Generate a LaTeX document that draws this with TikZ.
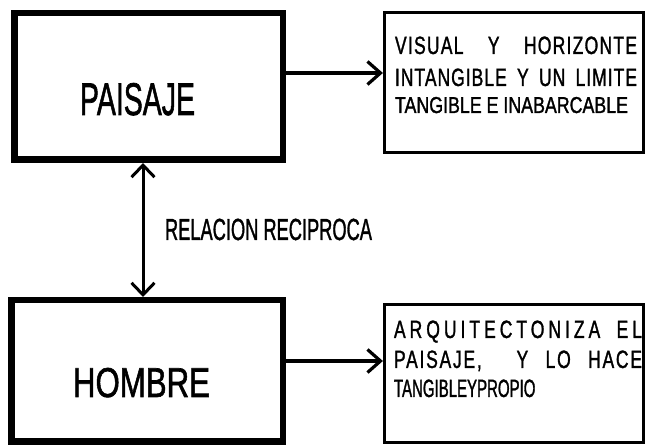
\documentclass[tikz,border=0pt]{standalone}
\usepackage{fontspec}
\usepackage{graphicx}
\setmainfont{Liberation Sans}
\newfontfamily\cond[FakeStretch=0.7,FakeBold=1.2]{Liberation Sans}
\newfontfamily\condn[FakeStretch=0.6,FakeBold=1.2]{Liberation Sans}
\newfontfamily\condbig[FakeBold=1.6]{Liberation Sans}
\usetikzlibrary{arrows.meta}
\tikzset{
  bigbox/.style={draw=black, line width=6.5pt, inner sep=0pt, minimum width=#1},
  smallbox/.style={draw=black, line width=3.2pt, inner sep=0pt, minimum width=259pt},
  arr/.style={line width=3.2pt, -{Straight Barb[length=13pt,width=23pt]}},
  dblarr/.style={line width=3pt, {Straight Barb[length=12pt,width=23pt]}-{Straight Barb[length=12pt,width=23pt]}},
  txt/.style={inner sep=0pt, outer sep=0pt},
}
\newcommand{\smallfont}{\cond\fontsize{25}{28}\selectfont}
\newcommand{\bigfont}[1]{\condbig\fontsize{#1}{#1}\selectfont}
\begin{document}
\begin{tikzpicture}[x=1pt,y=1pt]
\useasboundingbox (0,0) rectangle (647,446);
\fill[white] (0,0) rectangle (647,446);
% boxes
\node[bigbox=268.5pt, minimum height=146.5pt] (paisaje) at (148.5,359.5) {};
\node[bigbox=271.5pt, minimum height=141.5pt] (hombre) at (147,75) {};
\node[smallbox, minimum height=140pt] (vis) at (514,363.5) {};
\node[smallbox, minimum height=138pt] (arq) at (514,72.5) {};
% big labels
\node[txt, anchor=base] (tpai) at (137.5,331) {\resizebox{115pt}{\height}{\bigfont{45.8}PAISAJE}};
\node[txt, anchor=base] (thom) at (141.5,49) {\resizebox{137pt}{\height}{\bigfont{41.7}HOMBRE}};
\node[txt, anchor=base west] (trel) at (165,206) {\resizebox{207pt}{\height}{\bigfont{30.5}RELACION RECIPROCA}};
% top right text
\node[txt, anchor=base west] (v1) at (395,392) {\smallfont\addfontfeature{LetterSpace=5}\makebox[242pt][s]{VISUAL\hfill Y\hfill HORIZONTE}};
\node[txt, anchor=base west] (v2) at (395,360) {\smallfont\addfontfeature{LetterSpace=4}\makebox[242pt][s]{INTANGIBLE\hfill Y\hfill UN\hfill LIMITE}};
\node[txt, anchor=base west] (v3) at (395,333) {\resizebox{233pt}{\height}{\cond\fontsize{23}{26}\selectfont TANGIBLE E INABARCABLE}};
% bottom right text
\node[txt, anchor=base west] (a1) at (394,108) {\smallfont\addfontfeature{LetterSpace=16}\makebox[248pt][s]{ARQUITECTONIZA\hfill EL}};
\node[txt, anchor=base west] (a2) at (394,78) {\smallfont\addfontfeature{LetterSpace=7}\makebox[248pt][s]{PAISAJE,\hfill\hfill Y\hfill LO\hfill HACE}};
\node[txt, anchor=base west] (a3) at (394,49) {\condn\fontsize{25}{28}\selectfont TANGIBLEYPROPIO};
% connectors
\draw[arr] ([yshift=13.5pt]paisaje.east) -- ([yshift=9.5pt]vis.west);
\draw[arr] ([yshift=10pt]hombre.east) -- ([yshift=12.5pt]arq.west);
\coordinate (vt) at ([xshift=-5.5pt]paisaje.south);
\draw[dblarr] (vt) -- (vt |- hombre.north);
\end{tikzpicture}
\end{document}
